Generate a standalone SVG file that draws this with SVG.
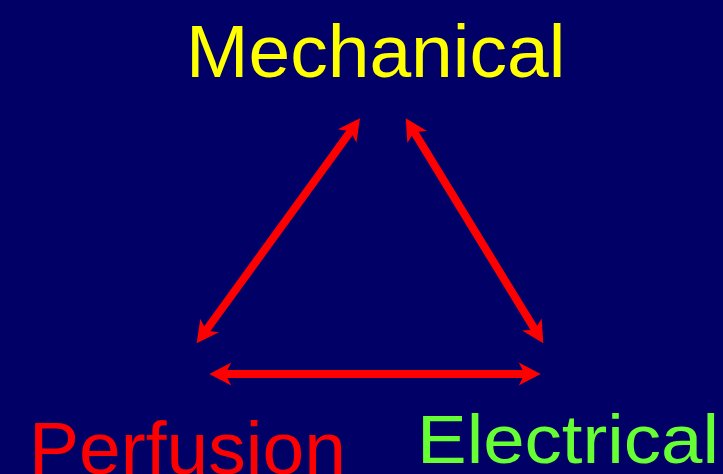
<svg xmlns="http://www.w3.org/2000/svg" width="723" height="474" viewBox="0 0 723 474">
  <style>
    .lbl { font-family: "Liberation Sans", Arial, sans-serif; font-size: 75px; }
    .conn { stroke: #FF0000; stroke-width: 8; fill: none; marker-start: url(#head); marker-end: url(#head); }
  </style>
  <defs>
    <marker id="head" markerUnits="userSpaceOnUse" markerWidth="22" markerHeight="23" viewBox="0 -11.5 22 23" refX="8" refY="0" orient="auto-start-reverse" overflow="visible">
      <path d="M22,0 L0,-11.5 L6,0 L0,11.5 Z" fill="#FF0000"/>
    </marker>
  </defs>
  <rect x="0" y="0" width="723" height="474" fill="#000066"/>
  <g id="connectors">
    <line class="conn" x1="204.9" y1="332.0" x2="351.8" y2="129.6"/>
    <line class="conn" x1="413.0" y1="130.2" x2="536.0" y2="331.4"/>
    <line class="conn" x1="223.3" y1="374" x2="526.7" y2="374"/>
  </g>
  <g id="mechanical">
    <text class="lbl" x="186" y="77" fill="#FFFF00">Mechanical</text>
  </g>
  <g id="perfusion">
    <text class="lbl" x="29" y="474" fill="#FF0000">Perfusion</text>
  </g>
  <g id="electrical">
    <text class="lbl" x="417" y="463" fill="#66FF33" style="font-size:68px" textLength="302" lengthAdjust="spacingAndGlyphs">Electrical</text>
  </g>
</svg>
